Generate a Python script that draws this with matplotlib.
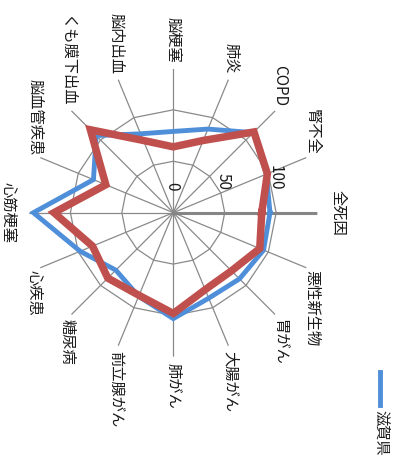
import numpy as np
import matplotlib
matplotlib.use("Agg")
import matplotlib.pyplot as plt
from matplotlib.lines import Line2D

plt.rcParams["font.family"] = ["Noto Sans CJK JP", "DejaVu Sans"]

# categories, clockwise from the right-hand spoke
CATEGORIES = [
    "全死因", "悪性新生物", "胃がん", "大腸がん", "肺がん", "前立腺がん", "糖尿病", "心疾患",
    "心筋梗塞", "脳血管疾患", "くも膜下出血", "脳内出血", "脳梗塞", "肺炎", "COPD", "腎不全",
]
SHIGA = [94, 95, 91, 90, 103, 88, 79, 98, 136, 84, 106, 83, 79, 88, 110, 98]
OTHER = [86, 91, 80, 81, 98, 87, 90, 85, 116, 71, 114, 76, 64, 76, 111, 99]
RING_VALUES = [50, 100]
TICK_VALUES = [0, 50, 100]
R_MAX = 140

BLUE = "#4f8fd9"
RED = "#c0504d"
GRID = "#8a8a8a"
TEXT = "#1a1a1a"


def main() -> None:
    fig = plt.figure(figsize=(3.98, 4.59), dpi=100)
    ax = fig.add_axes([0.0736, 0.2229, 0.7236, 0.6275], projection="polar")
    ax.set_theta_offset(0)
    ax.set_theta_direction(-1)
    ax.set_ylim(0, R_MAX)

    n = len(CATEGORIES)
    angles = np.arange(n) * 2 * np.pi / n
    closed = np.append(angles, angles[0])

    ax.set_xticks(angles)
    ax.set_xticklabels([])
    ax.set_yticks([])
    ax.xaxis.grid(True, color=GRID, linewidth=0.9)
    ax.yaxis.grid(False)
    ax.spines["polar"].set_visible(False)

    for value in RING_VALUES:
        ax.plot(closed, [value] * (n + 1), color=GRID, linewidth=0.9, zorder=1)
    ax.plot([0, 0], [0, R_MAX], color="#858585", linewidth=2.2, zorder=2)

    ax.plot(closed, SHIGA + SHIGA[:1], color=BLUE, linewidth=3.5, zorder=3,
            solid_joinstyle="miter")
    ax.plot(closed, OTHER + OTHER[:1], color=RED, linewidth=5.4, zorder=4,
            solid_joinstyle="miter")

    for angle, label in zip(angles, CATEGORIES):
        dx, dy = np.cos(angle), -np.sin(angle)
        if abs(dy) < 1e-6:
            ha = "left" if dx > 0 else "right"
            va = "center"
            r = 152
        else:
            ha = "center"
            va = "bottom" if dy > 0 else "top"
            r = 146
        ax.text(angle, r, label, rotation=-90, ha=ha, va=va, fontsize=11,
                color=TEXT, rotation_mode="default")

    for value in TICK_VALUES:
        ax.annotate(str(value), xy=(0, value), xytext=(-1, 16), textcoords="offset points",
                    rotation=-90, ha="center", va="bottom", fontsize=11, color=TEXT)

    fig.add_artist(Line2D([0.9548, 0.9548], [0.1895, 0.1176], transform=fig.transFigure,
                          color=BLUE, linewidth=3.5))
    fig.text(0.957, 0.1068, "滋賀県", rotation=-90, ha="center", va="top", fontsize=11,
             color=TEXT)

    fig.savefig("out.png", dpi=100)
    plt.close(fig)


if __name__ == "__main__":
    main()
